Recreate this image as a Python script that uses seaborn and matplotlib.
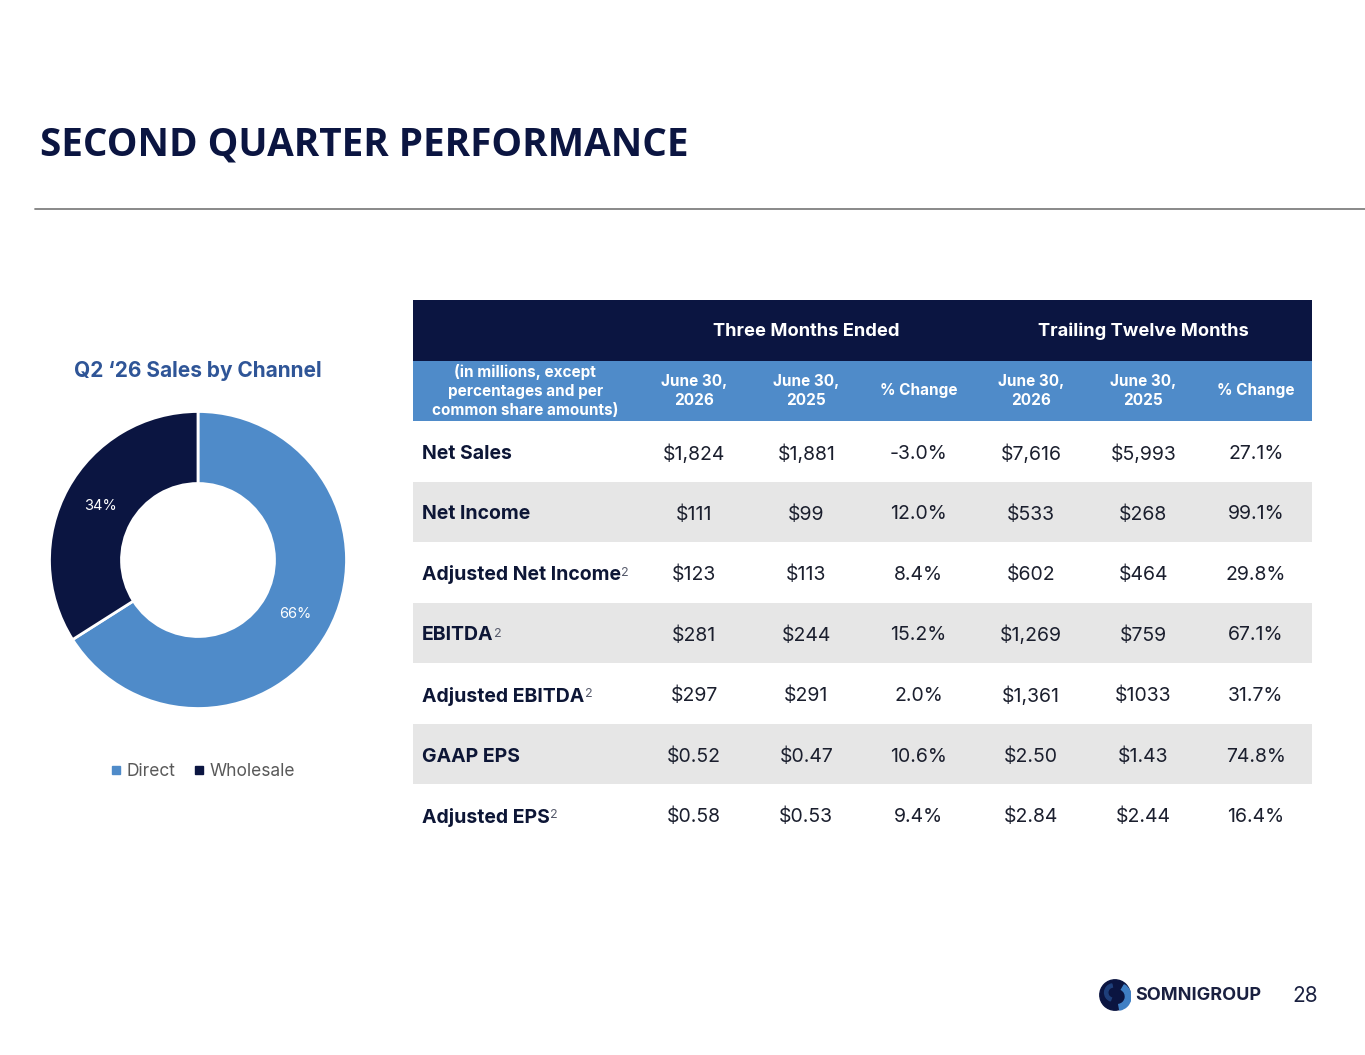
import matplotlib
matplotlib.use('Agg')
import matplotlib.pyplot as plt
from matplotlib.lines import Line2D
from matplotlib.patches import Circle, Wedge
import seaborn as sns

# chart data
channels = ['Direct', 'Wholesale']
channel_share = [66, 34]

metrics = ['Net Sales', 'Net Income', 'Adjusted Net Income', 'EBITDA',
           'Adjusted EBITDA', 'GAAP EPS', 'Adjusted EPS']
footnotes = ['', '', '2', '2', '2', '', '2']
q_2026 = ['$1,824', '$111', '$123', '$281', '$297', '$0.52', '$0.58']
q_2025 = ['$1,881', '$99', '$113', '$244', '$291', '$0.47', '$0.53']
q_change = ['-3.0%', '12.0%', '8.4%', '15.2%', '2.0%', '10.6%', '9.4%']
ttm_2026 = ['$7,616', '$533', '$602', '$1,269', '$1,361', '$2.50', '$2.84']
ttm_2025 = ['$5,993', '$268', '$464', '$759', '$1033', '$1.43', '$2.44']
ttm_change = ['27.1%', '99.1%', '29.8%', '67.1%', '31.7%', '74.8%', '16.4%']

group_headers = ['Three Months Ended', 'Trailing Twelve Months']
col_headers = ['(in millions, except\npercentages and per\ncommon share amounts)',
               'June 30,\n2026', 'June 30,\n2025', '% Change',
               'June 30,\n2026', 'June 30,\n2025', '% Change']

NAVY = '#0b1541'
BLUE = '#4f8bc9'
GREY_ROW = '#e6e6e6'
TEXT = '#0d1636'

sns.set_theme(style='white')
plt.rcParams['font.family'] = ['Inter', 'DejaVu Sans']

W, H = 1365, 1055
fig = plt.figure(figsize=(W / 100, H / 100), dpi=100)
fig.patch.set_facecolor('white')


def px_axes(x0, y0, x1, y1):
    return fig.add_axes([x0 / W, 1 - y1 / H, (x1 - x0) / W, (y1 - y0) / H])


# slide title + rule
fig.text(40 / W, 1 - 145 / H, 'SECOND QUARTER PERFORMANCE', fontsize=27.8,
         fontweight='bold', color=NAVY, va='center', ha='left',
         family=['Open Sans', 'DejaVu Sans'])
fig.add_artist(Line2D([35 / W, 1], [1 - 209 / H] * 2, color='#808080', lw=1.3))

# donut
ax_pie = px_axes(48, 410, 348, 710)
wedges, _, autotexts = ax_pie.pie(
    channel_share, colors=[BLUE, NAVY], startangle=90, counterclock=False,
    radius=1, autopct='%.0f%%', pctdistance=0.75,
    wedgeprops=dict(width=0.485, edgecolor='white', linewidth=2))
for t in autotexts:
    t.set_color('white')
    t.set_fontsize(10.5)
ax_pie.set_xlim(-1.01, 1.01)
ax_pie.set_ylim(-1.01, 1.01)
ax_pie.set_aspect('equal')
ax_pie.axis('off')

fig.text(198 / W, 1 - 371 / H, 'Q2 \u201826 Sales by Channel', fontsize=15,
         fontweight='bold', color='#2f5597', ha='center', va='center')

handles = [Line2D([], [], marker='s', ls='', markersize=6, color=c) for c in [BLUE, NAVY]]
fig.legend(handles, channels, loc='center', bbox_to_anchor=(202 / W, 1 - 772 / H),
           ncol=2, frameon=False, fontsize=12.5, labelcolor='#595959',
           handletextpad=0.2, columnspacing=1.0, handlelength=0.8)

# table
ax = px_axes(413, 300, 1312, 845)
ax.set_xlim(0, 8)
ax.set_ylim(9, 0)
ax.axis('off')

ax.axhspan(0, 1, color=NAVY, lw=0)
ax.axhspan(1, 2, color=BLUE, lw=0)
for i in range(len(metrics)):
    if i % 2 == 1:
        ax.axhspan(i + 2, i + 3, color=GREY_ROW, lw=0)

for j, g in enumerate(group_headers):
    ax.text(3.5 + 3 * j, 0.52, g, ha='center', va='center', color='white',
            fontsize=13.2, fontweight='bold')

col_x = [1.0, 2.5, 3.5, 4.5, 5.5, 6.5, 7.5]
for x, h in zip(col_x, col_headers):
    ax.text(x, 1.5, h, ha='center', va='center', color='white', fontsize=11,
            fontweight='bold', linespacing=1.35)

columns = [q_2026, q_2025, q_change, ttm_2026, ttm_2025, ttm_change]
for i, name in enumerate(metrics):
    y = i + 2.54
    lab = ax.text(0.08, y, name, ha='left', va='center', color=TEXT,
                  fontsize=14, fontweight='bold')
    if footnotes[i]:
        ax.annotate(footnotes[i], xy=(1.0, 0.92), xycoords=lab, ha='left', va='top',
                    fontsize=9, color='#55596a', xytext=(0.3, 0),
                    textcoords='offset points')
    for x, col in zip(col_x[1:], columns):
        ax.text(x, y, col[i], ha='center', va='center', color='#1b1f2e', fontsize=14)

# footer logo + page number
ax_logo = px_axes(1099, 978, 1131, 1012)
ax_logo.set_xlim(-1, 1)
ax_logo.set_ylim(-1, 1)
ax_logo.set_aspect('equal')
ax_logo.axis('off')
ax_logo.add_patch(Circle((0, 0), 0.95, color=NAVY))
ax_logo.add_patch(Wedge((0.15, -0.1), 0.85, -80, 60, width=0.35, color='#3f7fc4'))
ax_logo.add_patch(Wedge((-0.1, 0.15), 0.55, 100, 250, width=0.2, color='#1e3f7a'))

fig.text(1135 / W, 1 - 996 / H, 'SOMNIGROUP', fontsize=13, fontweight='bold',
         color='#1a2040', ha='left', va='center')
fig.text(1305 / W, 1 - 996 / H, '28', fontsize=15, color='#1a2040',
         ha='center', va='center')

fig.savefig('out.png', dpi=100)
